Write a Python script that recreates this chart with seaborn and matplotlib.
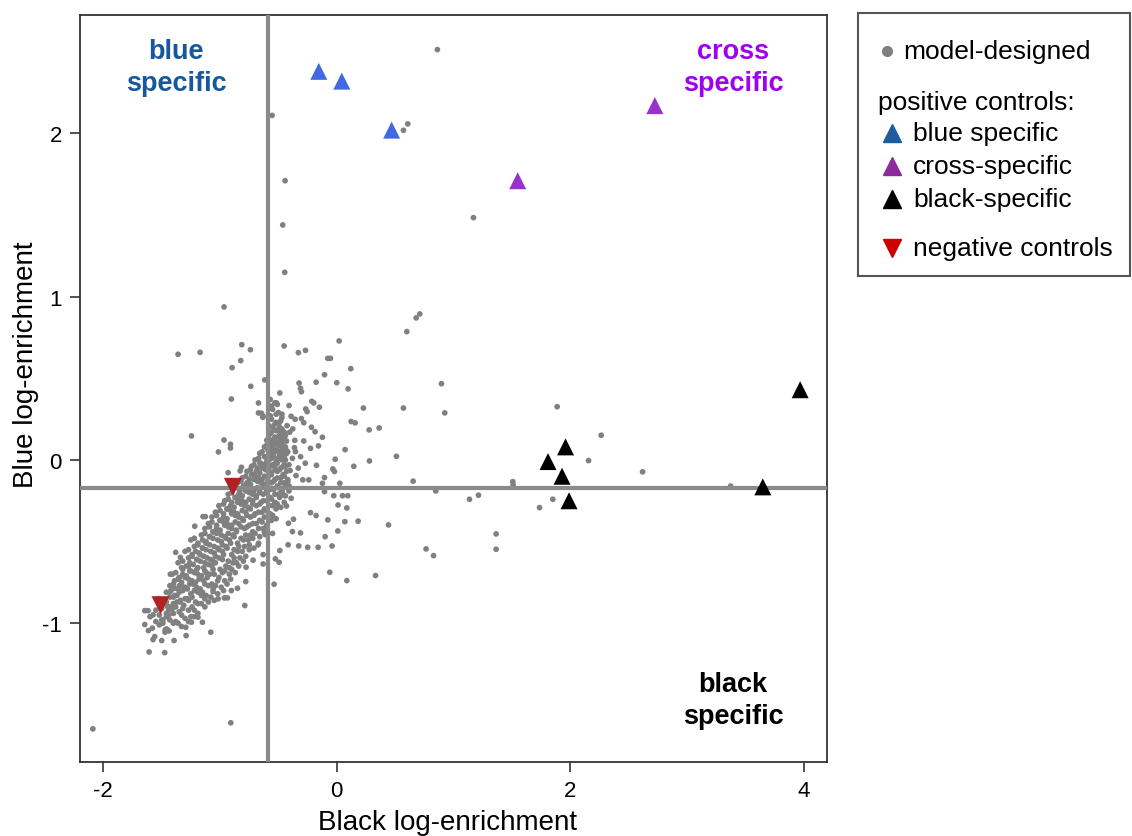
import numpy as np
import pandas as pd
import seaborn as sns
import matplotlib
matplotlib.use("Agg")
import matplotlib.pyplot as plt
from matplotlib.lines import Line2D
from matplotlib.patches import Rectangle

# ---- data (black, blue log-enrichment) ----
# sparse points, upper part
upper_pts = [(0.862, 2.513), (-0.554, 2.11), (0.608, 2.058), (0.571, 2.019), (-0.443, 1.71),
             (-0.463, 1.439), (1.171, 1.484), (-0.446, 1.149), (-0.966, 0.937), (0.711, 0.894),
             (0.68, 0.87), (0.60, 0.786), (0.02, 0.729), (-0.329, 0.657), (-0.268, 0.671),
             (-0.451, 0.698), (-0.077, 0.622), (-0.054, 0.622), (0.12, 0.559), (-0.105, 0.522),
             (-0.74, 0.675), (-1.36, 0.647), (-1.171, 0.659), (-0.814, 0.706), (-0.823, 0.608),
             (-0.897, 0.565)]

# spread to the right of the main band
mid_pts = [(0.897, 0.467), (0.925, 0.288), (0.571, 0.318), (0.228, 0.318), (1.888, 0.326),
           (2.265, 0.151), (2.157, -0.004), (2.62, -0.073), (3.374, -0.16), (0.277, 0.184),
           (0.363, 0.196), (0.123, 0.235), (0.157, 0.227), (0.511, 0.022), (0.28, -0.006),
           (0.146, -0.039), (0.071, 0.063), (0.654, -0.13), (0.848, -0.19), (1.137, -0.241),
           (1.214, -0.216), (1.508, -0.133), (1.511, -0.153), (1.737, -0.292), (1.851, -0.241),
           (1.365, -0.453), (1.365, -0.547), (0.765, -0.545), (0.829, -0.586), (0.443, -0.398),
           (0.332, -0.708), (0.086, -0.739), (-0.06, -0.688), (0.183, -0.375), (0.069, -0.378),
           (0.009, -0.435), (-0.04, -0.527), (-0.1, -0.47), (-0.077, -0.367), (-0.16, -0.535),
           (-0.249, -0.535), (-0.326, -0.527), (-0.417, -0.52), (-0.488, -0.555), (-0.537, -0.761),
           (-0.311, -0.447), (-0.38, -0.439), (-0.414, -0.388), (-0.371, -0.363), (-0.177, -0.341),
           (-0.225, -0.323), (0.086, -0.294), (0.011, -0.276), (-0.026, -0.219), (0.049, -0.219),
           (0.094, -0.219), (-0.105, -0.194), (-0.123, -0.143), (-0.105, -0.108), (0.026, -0.143),
           (-0.391, -0.235), (-0.431, -0.282), (-0.48, -0.219), (-0.291, -0.122), (-0.24, -0.122),
           (-0.349, -0.096), (-0.409, -0.159), (-0.4, -0.065), (-0.174, -0.033), (-0.014, 0.004),
           (-0.034, -0.055), (-0.02, -0.071)]

# points around the crossing of the two threshold lines
near_pts = [(-0.157, 0.086), (-0.225, 0.071), (-0.283, 0.116), (-0.363, 0.075), (-0.354, 0.051),
            (-0.431, 0.057), (-0.474, 0.057), (-0.517, 0.057), (-0.465, 0.106), (-0.431, 0.116),
            (-0.491, 0.106), (-0.123, 0.139), (-0.217, 0.2), (-0.186, 0.173), (-0.403, 0.17),
            (-0.426, 0.21), (-0.377, 0.19), (-0.303, 0.253), (-0.357, 0.249), (-0.283, 0.228),
            (-0.391, 0.267), (-0.494, 0.227), (-0.497, 0.19), (-0.266, 0.312), (-0.254, 0.296),
            (-0.214, 0.359), (-0.197, 0.349), (-0.149, 0.323), (-0.409, 0.333), (-0.517, 0.349),
            (-0.488, 0.41), (-0.303, 0.418), (-0.311, 0.439), (-0.323, 0.471), (-0.177, 0.476),
            (0.0, 0.473), (0.097, 0.435), (-0.617, 0.49), (-0.737, 0.451), (-0.671, 0.349),
            (-0.671, 0.288), (-0.631, 0.267), (-0.903, 0.373), (-1.245, 0.147), (-0.966, 0.122),
            (-0.911, 0.096), (-0.911, 0.073), (-1.014, 0.049), (-0.931, -0.078), (-0.828, -0.067),
            (-0.817, -0.045), (-0.646, 0.286), (-0.634, 0.261), (-0.45, -0.03), (-0.38, 0.01),
            (-0.33, -0.05), (-0.44, 0.15), (-0.36, 0.12), (-0.47, 0.28), (-0.42, 0.05),
            (-0.31, 0.02), (-0.27, -0.02), (-0.46, -0.21), (-0.52, -0.36), (-0.55, -0.45)]

# lower tail and points below the band
low_pts = [(-2.09, -1.647), (-0.908, -1.61), (-1.608, -1.176), (-1.474, -1.18), (-1.645, -0.923),
           (-1.617, -0.923), (-1.645, -1.008), (-1.614, -1.045), (-1.574, -1.1), (-1.56, -1.082),
           (-1.5, -1.106), (-1.457, -1.035), (-1.471, -1.055), (-1.437, -1.047), (-1.394, -1.106),
           (-1.291, -1.076), (-1.294, -1.025), (-1.245, -0.994), (-1.151, -0.994), (-1.08, -1.055),
           (-1.189, -0.963), (-1.5, -0.98), (-1.574, -0.949), (-1.453, -0.896), (-1.434, -0.81),
           (-1.391, -0.786), (-1.348, -0.77), (-1.426, -0.7), (-1.38, -0.566), (-1.34, -0.597),
           (-1.217, -0.406), (-1.146, -0.347), (-1.126, -0.347), (-1.017, -0.851), (-0.963, -0.845),
           (-0.937, -0.845), (-0.788, -0.892), (-0.78, -0.745), (-0.851, -0.786), (-0.903, -0.8),
           (-1.06, -0.806), (-0.631, -0.637), (-0.631, -0.58), (-0.614, -0.457), (-0.674, -0.52),
           (-0.717, -0.614), (-0.777, -0.657), (-0.526, -0.606), (-0.494, -0.627)]

# dense diagonal band
band_pts = [(-1.58, -1.03), (-1.52, -1.01), (-1.47, -1.04), (-1.40, -1.00), (-1.33, -1.02),
            (-1.60, -0.96), (-1.49, -0.98), (-1.44, -0.95), (-1.38, -0.99), (-1.30, -0.97), (-1.22, -0.96),
            (-1.55, -0.92), (-1.46, -0.94), (-1.41, -0.91), (-1.35, -0.93), (-1.27, -0.92), (-1.19, -0.94),
            (-1.49, -0.88), (-1.43, -0.90), (-1.37, -0.87), (-1.31, -0.89), (-1.24, -0.90), (-1.16, -0.88),
            (-1.53, -0.85), (-1.40, -0.84), (-1.34, -0.86), (-1.28, -0.85), (-1.21, -0.87), (-1.13, -0.85),
            (-1.05, -0.86),
            (-1.46, -0.81), (-1.39, -0.83), (-1.32, -0.80), (-1.25, -0.82), (-1.19, -0.81), (-1.12, -0.83),
            (-1.02, -0.82),
            (-1.43, -0.77), (-1.36, -0.79), (-1.30, -0.78), (-1.23, -0.76), (-1.17, -0.79), (-1.10, -0.77),
            (-0.99, -0.78),
            (-1.39, -0.74), (-1.33, -0.75), (-1.27, -0.73), (-1.21, -0.75), (-1.14, -0.74), (-1.07, -0.76),
            (-0.96, -0.74),
            (-1.41, -0.70), (-1.35, -0.72), (-1.29, -0.71), (-1.22, -0.69), (-1.16, -0.71), (-1.09, -0.70),
            (-1.01, -0.72), (-0.92, -0.70),
            (-1.32, -0.67), (-1.26, -0.68), (-1.19, -0.66), (-1.13, -0.68), (-1.06, -0.67), (-0.98, -0.69),
            (-0.90, -0.67),
            (-1.36, -0.63), (-1.29, -0.65), (-1.23, -0.64), (-1.17, -0.62), (-1.10, -0.64), (-1.04, -0.63),
            (-0.95, -0.65), (-0.86, -0.63),
            (-1.27, -0.60), (-1.20, -0.61), (-1.14, -0.59), (-1.08, -0.61), (-1.01, -0.60), (-0.93, -0.62),
            (-0.83, -0.60),
            (-1.30, -0.56), (-1.24, -0.58), (-1.18, -0.57), (-1.12, -0.55), (-1.05, -0.57), (-0.98, -0.56),
            (-0.90, -0.58), (-0.81, -0.56),
            (-1.22, -0.53), (-1.15, -0.54), (-1.09, -0.52), (-1.02, -0.54), (-0.95, -0.53), (-0.88, -0.55),
            (-0.79, -0.53), (-0.71, -0.54),
            (-1.25, -0.49), (-1.19, -0.51), (-1.12, -0.50), (-1.06, -0.48), (-0.99, -0.50), (-0.92, -0.49),
            (-0.85, -0.51), (-0.76, -0.49),
            (-1.16, -0.46), (-1.09, -0.47), (-1.03, -0.45), (-0.96, -0.47), (-0.89, -0.46), (-0.82, -0.48),
            (-0.74, -0.46), (-0.66, -0.47),
            (-1.13, -0.42), (-1.06, -0.44), (-1.00, -0.43), (-0.93, -0.41), (-0.86, -0.43), (-0.79, -0.42),
            (-0.72, -0.44), (-0.63, -0.42),
            (-1.10, -0.39), (-1.03, -0.40), (-0.97, -0.38), (-0.90, -0.40), (-0.84, -0.39), (-0.77, -0.41),
            (-0.69, -0.39), (-0.60, -0.40),
            (-1.07, -0.35), (-1.00, -0.37), (-0.94, -0.36), (-0.87, -0.34), (-0.81, -0.36), (-0.74, -0.35),
            (-0.66, -0.37), (-0.59, -0.35),
            (-1.04, -0.32), (-0.97, -0.33), (-0.91, -0.31), (-0.85, -0.33), (-0.78, -0.32), (-0.71, -0.34),
            (-0.64, -0.32), (-0.57, -0.33),
            (-1.01, -0.28), (-0.94, -0.30), (-0.88, -0.29), (-0.82, -0.27), (-0.76, -0.29), (-0.69, -0.28),
            (-0.62, -0.30), (-0.55, -0.28), (-0.48, -0.29),
            (-0.96, -0.25), (-0.90, -0.26), (-0.84, -0.24), (-0.78, -0.26), (-0.72, -0.25), (-0.66, -0.27),
            (-0.60, -0.25), (-0.53, -0.26),
            (-0.93, -0.21), (-0.87, -0.23), (-0.81, -0.22), (-0.75, -0.20), (-0.69, -0.22), (-0.63, -0.21),
            (-0.57, -0.23), (-0.50, -0.21), (-0.44, -0.22),
            (-0.89, -0.18), (-0.83, -0.19), (-0.77, -0.17), (-0.71, -0.19), (-0.66, -0.18), (-0.60, -0.20),
            (-0.54, -0.18), (-0.47, -0.19),
            (-0.85, -0.14), (-0.79, -0.16), (-0.74, -0.15), (-0.68, -0.13), (-0.62, -0.15), (-0.56, -0.14),
            (-0.51, -0.16), (-0.45, -0.14),
            (-0.81, -0.11), (-0.75, -0.12), (-0.70, -0.10), (-0.64, -0.12), (-0.59, -0.11), (-0.54, -0.13),
            (-0.48, -0.11), (-0.42, -0.12),
            (-0.77, -0.07), (-0.72, -0.09), (-0.66, -0.08), (-0.61, -0.06), (-0.56, -0.08), (-0.51, -0.07),
            (-0.46, -0.09),
            (-0.73, -0.04), (-0.68, -0.05), (-0.63, -0.03), (-0.58, -0.05), (-0.53, -0.04), (-0.49, -0.06),
            (-0.44, -0.04),
            (-0.70, 0.00), (-0.65, -0.02), (-0.60, -0.01), (-0.56, 0.01), (-0.52, -0.01), (-0.47, 0.00),
            (-0.66, 0.04), (-0.61, 0.02), (-0.57, 0.03), (-0.53, 0.05), (-0.49, 0.03), (-0.45, 0.02),
            (-0.62, 0.08), (-0.58, 0.06), (-0.54, 0.07), (-0.50, 0.09), (-0.46, 0.07),
            (-0.60, 0.12), (-0.56, 0.10), (-0.52, 0.11), (-0.48, 0.13),
            (-0.57, 0.16), (-0.53, 0.14), (-0.49, 0.15), (-0.45, 0.17),
            (-0.55, 0.20), (-0.51, 0.18), (-0.47, 0.19),
            (-0.56, 0.25), (-0.52, 0.23), (-0.48, 0.24),
            (-0.55, 0.31), (-0.50, 0.29),
            (-0.57, 0.37), (-0.53, 0.35)]

# second layer of the band, sitting between the rows above
band_pts2 = [(-1.55, -0.99), (-1.49, -1.00), (-1.43, -0.98), (-1.36, -1.00), (-1.27, -0.99),
             (-1.52, -0.95), (-1.46, -0.96), (-1.40, -0.94), (-1.33, -0.95), (-1.25, -0.96),
             (-1.50, -0.91), (-1.44, -0.92), (-1.38, -0.90), (-1.32, -0.91), (-1.22, -0.92), (-1.13, -0.90),
             (-1.46, -0.87), (-1.40, -0.88), (-1.34, -0.87), (-1.27, -0.86), (-1.19, -0.88), (-1.10, -0.87),
             (-1.43, -0.84), (-1.37, -0.83), (-1.30, -0.85), (-1.24, -0.84), (-1.16, -0.83), (-1.08, -0.84),
             (-1.42, -0.80), (-1.35, -0.81), (-1.28, -0.79), (-1.22, -0.80), (-1.15, -0.81), (-1.06, -0.79),
             (-0.97, -0.80),
             (-1.40, -0.76), (-1.33, -0.77), (-1.26, -0.76), (-1.20, -0.78), (-1.13, -0.76), (-1.04, -0.77),
             (-0.94, -0.76),
             (-1.36, -0.73), (-1.30, -0.72), (-1.24, -0.74), (-1.18, -0.73), (-1.11, -0.72), (-1.02, -0.74),
             (-0.91, -0.73),
             (-1.38, -0.69), (-1.32, -0.70), (-1.25, -0.68), (-1.19, -0.70), (-1.12, -0.69), (-1.05, -0.70),
             (-0.96, -0.68), (-0.87, -0.69),
             (-1.33, -0.66), (-1.27, -0.65), (-1.20, -0.67), (-1.14, -0.66), (-1.07, -0.65), (-1.00, -0.67),
             (-0.92, -0.66), (-0.84, -0.65),
             (-1.32, -0.62), (-1.26, -0.63), (-1.20, -0.61), (-1.13, -0.63), (-1.06, -0.62), (-0.98, -0.61),
             (-0.89, -0.63), (-0.80, -0.62),
             (-1.24, -0.59), (-1.17, -0.58), (-1.11, -0.60), (-1.04, -0.59), (-0.97, -0.58), (-0.88, -0.60),
             (-0.78, -0.59),
             (-1.27, -0.55), (-1.21, -0.56), (-1.15, -0.54), (-1.08, -0.56), (-1.01, -0.55), (-0.94, -0.54),
             (-0.85, -0.56), (-0.75, -0.55),
             (-1.19, -0.52), (-1.12, -0.51), (-1.05, -0.53), (-0.98, -0.52), (-0.91, -0.51), (-0.84, -0.53),
             (-0.75, -0.52), (-0.67, -0.51),
             (-1.22, -0.48), (-1.15, -0.49), (-1.09, -0.47), (-1.02, -0.49), (-0.95, -0.48), (-0.88, -0.47),
             (-0.80, -0.49), (-0.72, -0.48),
             (-1.13, -0.45), (-1.06, -0.44), (-0.99, -0.46), (-0.93, -0.45), (-0.86, -0.44), (-0.78, -0.46),
             (-0.70, -0.45), (-0.62, -0.44),
             (-1.09, -0.41), (-1.03, -0.42), (-0.96, -0.40), (-0.90, -0.42), (-0.82, -0.41), (-0.75, -0.40),
             (-0.67, -0.42),
             (-1.07, -0.38), (-1.00, -0.37), (-0.94, -0.39), (-0.87, -0.38), (-0.80, -0.37), (-0.72, -0.39),
             (-0.64, -0.38), (-0.56, -0.37),
             (-1.03, -0.34), (-0.97, -0.35), (-0.90, -0.33), (-0.84, -0.35), (-0.77, -0.34), (-0.70, -0.33),
             (-0.62, -0.35), (-0.55, -0.34),
             (-1.00, -0.31), (-0.94, -0.30), (-0.88, -0.32), (-0.81, -0.31), (-0.74, -0.30), (-0.67, -0.32),
             (-0.60, -0.31), (-0.52, -0.30),
             (-0.97, -0.27), (-0.91, -0.28), (-0.85, -0.26), (-0.79, -0.28), (-0.72, -0.27), (-0.65, -0.26),
             (-0.58, -0.28), (-0.51, -0.27), (-0.45, -0.26),
             (-0.93, -0.24), (-0.87, -0.23), (-0.81, -0.25), (-0.75, -0.24), (-0.69, -0.23), (-0.63, -0.25),
             (-0.56, -0.24), (-0.49, -0.23),
             (-0.90, -0.20), (-0.84, -0.21), (-0.78, -0.19), (-0.72, -0.21), (-0.66, -0.20), (-0.60, -0.19),
             (-0.53, -0.21), (-0.47, -0.20), (-0.41, -0.19),
             (-0.86, -0.17), (-0.80, -0.16), (-0.74, -0.18), (-0.68, -0.17), (-0.63, -0.16), (-0.57, -0.18),
             (-0.50, -0.17), (-0.44, -0.16),
             (-0.82, -0.13), (-0.77, -0.14), (-0.71, -0.12), (-0.65, -0.14), (-0.59, -0.13), (-0.53, -0.12),
             (-0.48, -0.14), (-0.42, -0.13),
             (-0.78, -0.10), (-0.73, -0.09), (-0.67, -0.11), (-0.62, -0.10), (-0.56, -0.09), (-0.51, -0.11),
             (-0.45, -0.10),
             (-0.74, -0.06), (-0.69, -0.07), (-0.64, -0.05), (-0.58, -0.07), (-0.53, -0.06), (-0.48, -0.05),
             (-0.43, -0.07),
             (-0.71, -0.03), (-0.66, -0.02), (-0.61, -0.04), (-0.55, -0.03), (-0.51, -0.02), (-0.46, -0.04),
             (-0.41, -0.03),
             (-0.67, 0.01), (-0.62, 0.02), (-0.58, 0.00), (-0.54, 0.02), (-0.50, 0.01), (-0.44, 0.00),
             (-0.64, 0.05), (-0.59, 0.06), (-0.55, 0.04), (-0.51, 0.06), (-0.47, 0.05), (-0.43, 0.04),
             (-0.60, 0.09), (-0.56, 0.08), (-0.52, 0.10), (-0.48, 0.09), (-0.44, 0.08),
             (-0.58, 0.13), (-0.54, 0.12), (-0.50, 0.14), (-0.46, 0.13),
             (-0.56, 0.17), (-0.52, 0.18), (-0.48, 0.16),
             (-0.58, 0.21), (-0.53, 0.22), (-0.49, 0.20),
             (-0.57, 0.27), (-0.52, 0.28), (-0.47, 0.26),
             (-0.56, 0.33), (-0.51, 0.34)]

# controls
blue_x = [-0.154, 0.043, 0.47]
blue_y = [2.38, 2.32, 2.02]
cross_x = [1.55, 2.725]
cross_y = [1.71, 2.17]
black_x = [3.97, 1.96, 1.81, 1.93, 1.99, 3.65]
black_y = [0.43, 0.08, -0.01, -0.10, -0.25, -0.165]
neg_x = [-0.89, -1.51]
neg_y = [-0.165, -0.89]

# threshold lines
x_cut = -0.59
y_cut = -0.17

designed = pd.DataFrame(upper_pts + mid_pts + near_pts + low_pts + band_pts + band_pts2,
                        columns=["black", "blue"])

sns.set_style("white")
plt.rcParams["font.family"] = ["Liberation Sans", "DejaVu Sans"]
plt.rcParams["axes.unicode_minus"] = False
plt.rcParams["text.color"] = "black"
plt.rcParams["axes.labelcolor"] = "black"
plt.rcParams["xtick.labelcolor"] = "black"
plt.rcParams["ytick.labelcolor"] = "black"

W, H = 1132, 837
fig = plt.figure(figsize=(W / 100, H / 100), dpi=100)
ax = fig.add_axes([80 / W, 1 - 763 / H, (827 - 80) / W, (763 - 16) / H])

sns.scatterplot(data=designed, x="black", y="blue", ax=ax, s=17, color="#808080",
                edgecolor="none", linewidth=0, zorder=2)

ax.axvline(x_cut, color="#8a8a8a", lw=3, zorder=3)
ax.axhline(y_cut, color="#8a8a8a", lw=3, zorder=3)

sns.scatterplot(x=blue_x, y=blue_y, ax=ax, marker="^", s=150, color="#4169e1",
                edgecolor="none", linewidth=0, zorder=4)
sns.scatterplot(x=cross_x, y=cross_y, ax=ax, marker="^", s=150, color="#9932cc",
                edgecolor="none", linewidth=0, zorder=4)
sns.scatterplot(x=black_x, y=black_y, ax=ax, marker="^", s=150, color="black",
                edgecolor="none", linewidth=0, zorder=4)
sns.scatterplot(x=neg_x, y=neg_y, ax=ax, marker="v", s=170, color="#b22222",
                edgecolor="none", linewidth=0, zorder=4)

ax.set_xlim(-2.2, 4.2)
ax.set_ylim(-1.85, 2.725)
ax.set_xticks([-2, 0, 2, 4])
ax.set_yticks([-1, 0, 1, 2])
ax.tick_params(axis="both", direction="out", length=7, width=1.2, color="#333333",
               labelsize=16, labelcolor="black", pad=6, bottom=True, left=True)
ax.set_xlabel("Black log-enrichment", fontsize=20, labelpad=6, color="black")
ax.set_ylabel("Blue log-enrichment", fontsize=20, labelpad=2, color="black")
ax.xaxis.label.set_x(0.492)
ax.yaxis.label.set_y(0.533)
for sp in ax.spines.values():
    sp.set_color("#333333")
    sp.set_linewidth(1.3)

# quadrant labels
ax.text(0.129, 0.931, "blue\nspecific", transform=ax.transAxes, ha="center", va="center",
        fontsize=19.5, fontweight="bold", color="#17589b", linespacing=1.3)
ax.text(0.874, 0.931, "cross\nspecific", transform=ax.transAxes, ha="center", va="center",
        fontsize=19.5, fontweight="bold", color="#a000f0", linespacing=1.3)
ax.text(0.874, 0.083, "black\nspecific", transform=ax.transAxes, ha="center", va="center",
        fontsize=19.5, fontweight="bold", color="black", linespacing=1.3)

# hand-built legend box (pixel positions from the reference)
def fx(px):
    return px / W


def fy(py):
    return 1 - py / H


fig.patches.append(Rectangle((fx(858), fy(277)), fx(1130) - fx(858), fy(14) - fy(277),
                             transform=fig.transFigure, fill=False, edgecolor="#555555",
                             linewidth=1.5))
leg_fs = 19
fig.add_artist(Line2D([fx(887)], [fy(52)], marker="o", markersize=7, color="#808080",
                      linestyle="none", transform=fig.transFigure))
fig.text(fx(903), fy(52), "model-designed", fontsize=leg_fs, va="center", ha="left")
fig.text(fx(878), fy(103), "positive controls:", fontsize=leg_fs, va="center", ha="left")
legend_rows = [("^", "#1d5c9e", "blue specific", 134),
               ("^", "#8e2a9a", "cross-specific", 167),
               ("^", "black", "black-specific", 200),
               ("v", "#cc0000", "negative controls", 249)]
for mk, col, lab, py in legend_rows:
    fig.add_artist(Line2D([fx(892)], [fy(py)], marker=mk, markersize=13, color=col,
                          linestyle="none", transform=fig.transFigure))
    fig.text(fx(913), fy(py), lab, fontsize=leg_fs, va="center", ha="left")

fig.savefig("out.png", dpi=100)
